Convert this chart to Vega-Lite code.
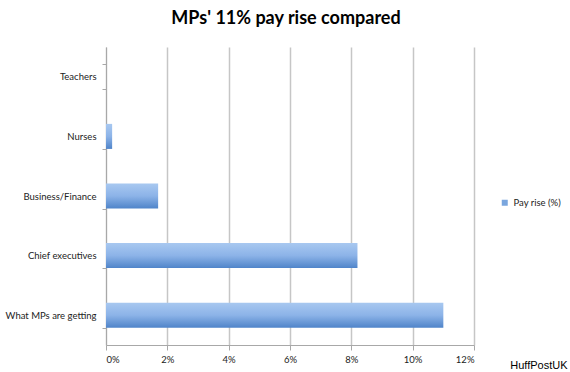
{
  "$schema": "https://vega.github.io/schema/vega-lite/v6.json",
  "width": 368,
  "height": 298,
  "autosize": {"type": "none"},
  "padding": {"left": 106, "top": 47, "right": 96, "bottom": 27},
  "background": "white",
  "title": {"text": "MPs' 11% pay rise compared", "font": "Lato", "fontSize": 18, "fontWeight": "bold", "color": "#000000", "offset": 14, "anchor": "middle", "dx": -4},
  "data": {"values": [
    {"category": "Teachers", "value": 0, "series": "Pay rise (%)"},
    {"category": "Nurses", "value": 0.2, "series": "Pay rise (%)"},
    {"category": "Business/Finance", "value": 1.7, "series": "Pay rise (%)"},
    {"category": "Chief executives", "value": 8.2, "series": "Pay rise (%)"},
    {"category": "What MPs are getting", "value": 11.0, "series": "Pay rise (%)"}
  ]},
  "mark": {"type": "bar", "orient": "horizontal", "fill": {"gradient": "linear", "x1": 0, "y1": 0, "x2": 0, "y2": 1, "stops": [{"offset": 0, "color": "#a8c8f0"}, {"offset": 0.5, "color": "#8cb3e8"}, {"offset": 1, "color": "#4f84c9"}]}},
  "encoding": {
    "y": {"field": "category", "type": "nominal", "sort": null,
      "scale": {"paddingInner": 0.58, "paddingOuter": 0.29},
      "axis": {"title": null, "labelFont": "Lato", "labelFontSize": 9.5, "labelColor": "#222222", "domainColor": "#a8a8a8", "tickColor": "#a8a8a8", "tickSize": 4, "tickBand": "extent", "labelPadding": 6, "grid": false}},
    "x": {"field": "value", "type": "quantitative",
      "scale": {"domain": [0, 12], "nice": false},
      "axis": {"values": [0, 2, 4, 6, 8, 10, 12], "labelExpr": "datum.value + '%'", "labelFont": "Lato", "labelFontSize": 9.5, "labelColor": "#222222", "domainColor": "#a8a8a8", "tickColor": "#a8a8a8", "tickSize": 5, "gridColor": "#c6c6c6", "gridWidth": 1.5, "labelPadding": 4,
        "title": "HuffPostUK", "titleFont": "Liberation Sans", "titleFontSize": 11, "titleFontWeight": "normal", "titleColor": "#000000", "titleAnchor": "end", "titleAlign": "right", "titleBaseline": "alphabetic", "titleX": 461, "titleY": 23}},
    "color": {"field": "series", "type": "nominal", "scale": {"range": ["#7aa6de"]},
      "legend": {"title": null, "orient": "none", "legendX": 394, "legendY": 151, "symbolType": "square", "symbolSize": 36, "labelFont": "Lato", "labelFontSize": 9.5, "labelColor": "#222222", "labelOffset": 4}}
  },
  "config": {"view": {"stroke": null}}
}
